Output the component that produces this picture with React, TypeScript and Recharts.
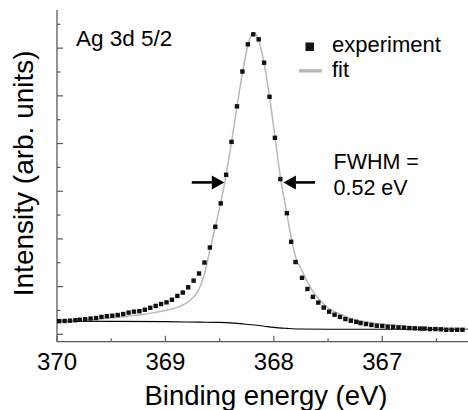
import React from 'react';
import {
  ComposedChart,
  Scatter,
  Line,
  XAxis,
  YAxis,
  ReferenceLine,
  Label,
} from 'recharts';

document.body.style.margin = '0';

const FONT = '"Liberation Sans", Arial, Helvetica, sans-serif';
const AXIS = '#5a5a5a';
const FIT = '#b8b8b8';

// experiment (binding energy in eV, intensity in arb. units)
const expEnergy = [
  369.98, 369.93, 369.88, 369.83, 369.79, 369.74, 369.69, 369.64, 369.59, 369.54,
  369.49, 369.44, 369.39, 369.34, 369.29, 369.24, 369.19, 369.14, 369.09, 369.04,
  368.99, 368.94, 368.89, 368.84, 368.79, 368.74, 368.69, 368.64, 368.59, 368.54,
  368.49, 368.44, 368.39, 368.34, 368.29, 368.24, 368.19, 368.14, 368.09, 368.04,
  367.99, 367.94, 367.88, 367.84, 367.8, 367.74, 367.69, 367.64, 367.59, 367.54,
  367.49, 367.44, 367.39, 367.34, 367.29, 367.24, 367.2, 367.15, 367.1, 367.05,
  367.0, 366.95, 366.9, 366.85, 366.8, 366.75, 366.7, 366.65, 366.61, 366.56,
  366.51, 366.46, 366.41, 366.36, 366.31, 366.26,
];
const expIntensity = [
  0.55, 0.56, 0.57, 0.59, 0.61, 0.63, 0.66, 0.68, 0.73, 0.76,
  0.78, 0.81, 0.85, 0.91, 0.95, 0.97, 1.03, 1.11, 1.19, 1.27,
  1.34, 1.45, 1.61, 1.75, 1.97, 2.25, 2.55, 3.01, 3.64, 4.51,
  5.49, 6.69, 8.07, 9.56, 11.02, 12.16, 12.58, 12.37, 11.39, 9.96,
  8.24, 6.51, 5.08, 3.88, 3.03, 2.37, 1.9, 1.57, 1.33, 1.12,
  0.95, 0.82, 0.73, 0.64, 0.57, 0.52, 0.47, 0.43, 0.39, 0.36,
  0.35, 0.32, 0.31, 0.29, 0.28, 0.26, 0.25, 0.24, 0.24, 0.22,
  0.22, 0.21, 0.19, 0.19, 0.19, 0.19,
];

// fit
const fitEnergy = [
  369.98, 369.83, 369.69, 369.54, 369.39, 369.24, 369.09, 368.99, 368.89, 368.84,
  368.79, 368.74, 368.69, 368.64, 368.59, 368.54, 368.49, 368.44, 368.39, 368.34,
  368.29, 368.24, 368.215, 368.19, 368.165, 368.14, 368.09, 368.04, 367.99, 367.94,
  367.88, 367.84, 367.8, 367.74, 367.69, 367.64, 367.59, 367.54, 367.49, 367.44,
  367.34, 367.24, 367.1, 366.95, 366.8, 366.65, 366.46, 366.2,
];
const fitIntensity = [
  0.55, 0.57, 0.61, 0.67, 0.74, 0.82, 0.92, 1.01, 1.13, 1.23,
  1.36, 1.57, 1.9, 2.53, 3.54, 4.51, 5.52, 6.7, 8.08, 9.55,
  10.94, 12.11, 12.49, 12.64, 12.58, 12.32, 11.36, 9.97, 8.29, 6.61,
  5.05, 4.04, 3.25, 2.66, 2.2, 1.8, 1.5, 1.27, 1.08, 0.95,
  0.75, 0.6, 0.49, 0.4, 0.34, 0.29, 0.25, 0.22,
];

// background
const bgEnergy = [369.98, 369.0, 368.68, 368.5, 368.37, 368.27, 368.18, 368.09, 368.0, 367.88, 367.75, 367.5, 366.2];
const bgIntensity = [0.55, 0.53, 0.51, 0.5, 0.47, 0.43, 0.39, 0.34, 0.29, 0.25, 0.22, 0.21, 0.21];

const xTicks = [370, 369.5, 369, 368.5, 368, 367.5, 367, 366.5];
const yTicks = [0, 1, 2, 3, 4, 5, 6, 7, 8, 9, 10, 11, 12, 13];

// FWHM arrows: [tail, tip] energies at half height
const fwhmLeft = [368.757, 368.457];
const fwhmRight = [367.62, 367.912];
const fwhmLevel = 6.37;

const zip = (e: number[], v: number[]) => e.map((x, i) => ({ e: x, v: v[i] }));
const expData = zip(expEnergy, expIntensity);
const fitData = zip(fitEnergy, fitIntensity);
const bgData = zip(bgEnergy, bgIntensity);

const isMajorX = (v: number) => Number.isInteger(v);
const isMajorY = (v: number) => v % 2 === 0;

const BottomTick = (p: any) => {
  const { x, y, payload } = p;
  const major = isMajorX(payload.value);
  return (
    <g>
      <line x1={x} y1={y} x2={x} y2={y - (major ? 6 : 3.5)} stroke={AXIS} strokeWidth={1.2} />
      {major && (
        <text x={x} y={y + 28.3} textAnchor="middle" fontSize={24} fontFamily={FONT} fill="#000">
          {payload.value}
        </text>
      )}
    </g>
  );
};

const TopTick = (p: any) => {
  const { x, y, payload } = p;
  const major = isMajorX(payload.value);
  return <line x1={x} y1={y} x2={x} y2={y + (major ? 6 : 3.5)} stroke={AXIS} strokeWidth={1.2} />;
};

const LeftTick = (p: any) => {
  const { x, y, payload } = p;
  const major = isMajorY(payload.value);
  return <line x1={x} y1={y} x2={x + (major ? 6 : 3.5)} y2={y} stroke={AXIS} strokeWidth={1.2} />;
};

const RightTick = (p: any) => {
  const { x, y, payload } = p;
  const major = isMajorY(payload.value);
  return <line x1={x} y1={y} x2={x - (major ? 6 : 3.5)} y2={y} stroke={AXIS} strokeWidth={1.2} />;
};

const Square = (p: any) => (
  <rect x={p.cx - 2.2} y={p.cy - 2.2} width={4.4} height={4.4} fill="#111" />
);

const Arrow = (p: any) => {
  const { x1, y1, x2, y2 } = p;
  const dir = Math.sign(x2 - x1);
  const hl = 12.5;
  const hw = 7;
  return (
    <g>
      <line x1={x1} y1={y1} x2={x2 - dir * hl} y2={y2} stroke="#000" strokeWidth={2.6} />
      <polygon
        points={`${x2},${y2} ${x2 - dir * hl},${y2 - hw} ${x2 - dir * hl},${y2 + hw}`}
        fill="#000"
      />
    </g>
  );
};

export default function App() {
  return (
    <div style={{ position: 'relative', width: 468, height: 410, overflow: 'hidden', fontFamily: FONT }}>
      <ComposedChart
        width={469}
        height={410}
        margin={{ top: 10, right: 0, bottom: 0, left: 0 }}
        style={{ fontFamily: FONT }}
      >
        <XAxis
          xAxisId="b"
          dataKey="e"
          type="number"
          domain={[366.2, 370]}
          reversed
          allowDataOverflow
          ticks={xTicks}
          interval={0}
          height={68.3}
          tickSize={0}
          tickMargin={0}
          tickLine={false}
          axisLine={{ stroke: AXIS, strokeWidth: 1.3 }}
          tick={BottomTick}
        >
          <Label
            content={() => (
              <text x={266} y={405} textAnchor="middle" fontSize={27.5} fontFamily={FONT} fill="#000">
                Binding energy (eV)
              </text>
            )}
          />
        </XAxis>
        <XAxis
          xAxisId="t"
          orientation="top"
          dataKey="e"
          type="number"
          domain={[366.2, 370]}
          reversed
          allowDataOverflow
          ticks={xTicks}
          interval={0}
          height={0}
          tickSize={0}
          tickMargin={0}
          tickLine={false}
          axisLine={{ stroke: AXIS, strokeWidth: 1.3 }}
          tick={TopTick}
        />
        <YAxis
          yAxisId="l"
          dataKey="v"
          type="number"
          domain={[-0.31, 13.6]}
          allowDataOverflow
          ticks={yTicks}
          interval={0}
          width={57}
          tickSize={0}
          tickMargin={0}
          tickLine={false}
          axisLine={{ stroke: AXIS, strokeWidth: 1.3 }}
          tick={LeftTick}
        >
          <Label
            content={() => (
              <text
                x={33.5}
                y={173.3}
                transform="rotate(-90, 33.5, 173.3)"
                textAnchor="middle"
                fontSize={28}
                fontFamily={FONT}
                fill="#000"
              >
                Intensity (arb. units)
              </text>
            )}
          />
        </YAxis>
        <YAxis
          yAxisId="r"
          orientation="right"
          dataKey="v"
          type="number"
          domain={[-0.31, 13.6]}
          allowDataOverflow
          ticks={yTicks}
          interval={0}
          width={0}
          tickSize={0}
          tickMargin={0}
          tickLine={false}
          axisLine={{ stroke: AXIS, strokeWidth: 1.3 }}
          tick={RightTick}
        />
        <Line
          xAxisId="b"
          yAxisId="l"
          data={bgData}
          dataKey="v"
          type="monotone"
          stroke="#000"
          strokeWidth={1.1}
          dot={false}
          isAnimationActive={false}
        />
        <Scatter
          xAxisId="b"
          yAxisId="l"
          data={expData}
          dataKey="v"
          shape={Square}
          isAnimationActive={false}
        />
        <Line
          xAxisId="b"
          yAxisId="l"
          data={fitData}
          dataKey="v"
          type="monotone"
          stroke={FIT}
          strokeWidth={1.5}
          dot={false}
          isAnimationActive={false}
        />
        <ReferenceLine
          xAxisId="b"
          yAxisId="l"
          segment={[{ x: fwhmLeft[0], y: fwhmLevel }, { x: fwhmLeft[1], y: fwhmLevel }]}
          shape={Arrow}
        />
        <ReferenceLine
          xAxisId="b"
          yAxisId="l"
          segment={[{ x: fwhmRight[0], y: fwhmLevel }, { x: fwhmRight[1], y: fwhmLevel }]}
          shape={Arrow}
        />
      </ComposedChart>
      <svg
        width={468}
        height={410}
        style={{ position: 'absolute', left: 0, top: 0, pointerEvents: 'none' }}
      >
        <g fontFamily={FONT} fill="#000">
          <text x={76} y={46} fontSize={22.5}>Ag 3d 5/2</text>
          <rect x={305.5} y={42.5} width={8.5} height={8.5} fill="#111" />
          <text x={332} y={51.7} fontSize={22}>experiment</text>
          <line x1={299} y1={70.8} x2={321.7} y2={70.8} stroke={FIT} strokeWidth={3.4} />
          <text x={332} y={76.7} fontSize={22}>fit</text>
          <text x={333.5} y={168.5} fontSize={21.5}>FWHM =</text>
          <text x={333.5} y={195} fontSize={21.5}>0.52 eV</text>
        </g>
      </svg>
    </div>
  );
}
